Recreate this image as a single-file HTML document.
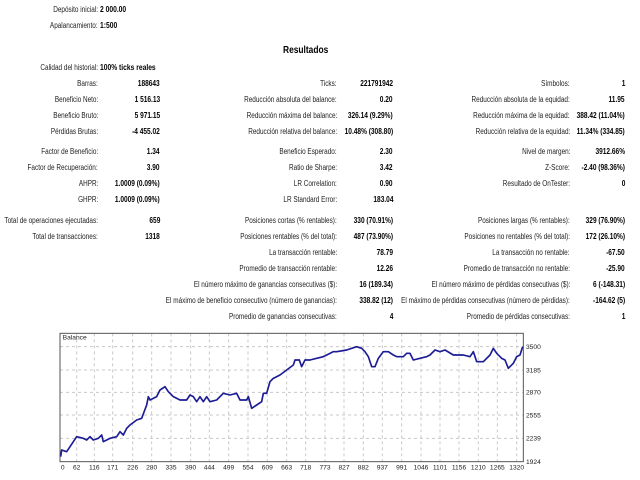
<!DOCTYPE html>
<html><head><meta charset="utf-8"><style>
body{margin:0;width:640px;height:480px;background:#fff;position:relative;overflow:hidden;font-family:"Liberation Sans",sans-serif;font-size:8px;color:#000}
.l,.v,.w{position:absolute;white-space:nowrap;line-height:10px}
.l{text-align:right;color:#222;transform:scaleX(0.8);transform-origin:right center}
.v{text-align:right;font-weight:bold;transform:scaleX(0.82);transform-origin:right center}
.w{font-weight:bold;transform:scaleX(0.84);transform-origin:left center}
</style></head><body>
<div class="l" style="right:542px;top:5px">Depósito inicial:</div><div class="w" style="left:100px;top:5px">2 000.00</div>
<div class="l" style="right:542px;top:21px">Apalancamiento:</div><div class="w" style="left:100px;top:21px">1:500</div>
<div class="w" style="left:283px;top:46px;font-size:10px">Resultados</div>
<div class="l" style="right:542px;top:63px">Calidad del historial:</div><div class="w" style="left:100px;top:63px">100% ticks reales</div>

<div class="l" style="right:542px;top:79px">Barras:</div><div class="v" style="right:480px;top:79px">188643</div>
<div class="l" style="right:542px;top:95px">Beneficio Neto:</div><div class="v" style="right:480px;top:95px">1 516.13</div>
<div class="l" style="right:542px;top:111px">Beneficio Bruto:</div><div class="v" style="right:480px;top:111px">5 971.15</div>
<div class="l" style="right:542px;top:127px">Pérdidas Brutas:</div><div class="v" style="right:480px;top:127px">-4 455.02</div>
<div class="l" style="right:542px;top:147px">Factor de Beneficio:</div><div class="v" style="right:480px;top:147px">1.34</div>
<div class="l" style="right:542px;top:163px">Factor de Recuperación:</div><div class="v" style="right:480px;top:163px">3.90</div>
<div class="l" style="right:542px;top:179px">AHPR:</div><div class="v" style="right:480px;top:179px">1.0009 (0.09%)</div>
<div class="l" style="right:542px;top:195px">GHPR:</div><div class="v" style="right:480px;top:195px">1.0009 (0.09%)</div>
<div class="l" style="right:542px;top:216px">Total de operaciones ejecutadas:</div><div class="v" style="right:480px;top:216px">659</div>
<div class="l" style="right:542px;top:232px">Total de transacciones:</div><div class="v" style="right:480px;top:232px">1318</div>

<div class="l" style="right:303px;top:79px">Ticks:</div><div class="v" style="right:247px;top:79px">221791942</div>
<div class="l" style="right:303px;top:95px">Reducción absoluta del balance:</div><div class="v" style="right:247px;top:95px">0.20</div>
<div class="l" style="right:303px;top:111px">Reducción máxima del balance:</div><div class="v" style="right:247px;top:111px">326.14 (9.29%)</div>
<div class="l" style="right:303px;top:127px">Reducción relativa del balance:</div><div class="v" style="right:247px;top:127px">10.48% (308.80)</div>
<div class="l" style="right:303px;top:147px">Beneficio Esperado:</div><div class="v" style="right:247px;top:147px">2.30</div>
<div class="l" style="right:303px;top:163px">Ratio de Sharpe:</div><div class="v" style="right:247px;top:163px">3.42</div>
<div class="l" style="right:303px;top:179px">LR Correlation:</div><div class="v" style="right:247px;top:179px">0.90</div>
<div class="l" style="right:303px;top:195px">LR Standard Error:</div><div class="v" style="right:247px;top:195px">183.04</div>
<div class="l" style="right:303px;top:216px">Posiciones cortas (% rentables):</div><div class="v" style="right:247px;top:216px">330 (70.91%)</div>
<div class="l" style="right:303px;top:232px">Posiciones rentables (% del total):</div><div class="v" style="right:247px;top:232px">487 (73.90%)</div>
<div class="l" style="right:303px;top:248px">La transacción rentable:</div><div class="v" style="right:247px;top:248px">78.79</div>
<div class="l" style="right:303px;top:264px">Promedio de transacción rentable:</div><div class="v" style="right:247px;top:264px">12.26</div>
<div class="l" style="right:303px;top:280px">El número máximo de ganancias consecutivas ($):</div><div class="v" style="right:247px;top:280px">16 (189.34)</div>
<div class="l" style="right:303px;top:296px">El máximo de beneficio consecutivo (número de ganancias):</div><div class="v" style="right:247px;top:296px">338.82 (12)</div>
<div class="l" style="right:303px;top:312px">Promedio de ganancias consecutivas:</div><div class="v" style="right:247px;top:312px">4</div>

<div class="l" style="right:70px;top:79px">Símbolos:</div><div class="v" style="right:15px;top:79px">1</div>
<div class="l" style="right:70px;top:95px">Reducción absoluta de la equidad:</div><div class="v" style="right:15px;top:95px">11.95</div>
<div class="l" style="right:70px;top:111px">Reducción máxima de la equidad:</div><div class="v" style="right:15px;top:111px">388.42 (11.04%)</div>
<div class="l" style="right:70px;top:127px">Reducción relativa de la equidad:</div><div class="v" style="right:15px;top:127px">11.34% (334.85)</div>
<div class="l" style="right:70px;top:147px">Nivel de margen:</div><div class="v" style="right:15px;top:147px">3912.66%</div>
<div class="l" style="right:70px;top:163px">Z-Score:</div><div class="v" style="right:15px;top:163px">-2.40 (98.36%)</div>
<div class="l" style="right:70px;top:179px">Resultado de OnTester:</div><div class="v" style="right:15px;top:179px">0</div>
<div class="l" style="right:70px;top:216px">Posiciones largas (% rentables):</div><div class="v" style="right:15px;top:216px">329 (76.90%)</div>
<div class="l" style="right:70px;top:232px">Posiciones no rentables (% del total):</div><div class="v" style="right:15px;top:232px">172 (26.10%)</div>
<div class="l" style="right:70px;top:248px">La transacción no rentable:</div><div class="v" style="right:15px;top:248px">-67.50</div>
<div class="l" style="right:70px;top:264px">Promedio de transacción no rentable:</div><div class="v" style="right:15px;top:264px">-25.90</div>
<div class="l" style="right:70px;top:280px">El número máximo de pérdidas consecutivas ($):</div><div class="v" style="right:15px;top:280px">6 (-148.31)</div>
<div class="l" style="right:70px;top:296px">El máximo de pérdidas consecutivas (número de pérdidas):</div><div class="v" style="right:15px;top:296px">-164.62 (5)</div>
<div class="l" style="right:70px;top:312px">Promedio de pérdidas consecutivas:</div><div class="v" style="right:15px;top:312px">1</div>

<svg width="640" height="480" style="position:absolute;left:0;top:0">
<g transform="translate(40,325) scale(0.33333)">
<g stroke="#c8c8c8" stroke-width="3" stroke-dasharray="9,9" fill="none">
<path d="M60,65H1450M60,135H1450M60,202H1450M60,270H1450M60,340H1450"/>
<path d="M110,25V410M163,25V410M218,25V410M278,25V410M335,25V410M393,25V410M452,25V410M508,25V410M566,25V410M624,25V410M682,25V410M740,25V410M797,25V410M855,25V410M912,25V410M970,25V410M1027,25V410M1085,25V410M1143,25V410M1200,25V410M1257,25V410M1315,25V410M1372,25V410M1430,25V410"/>
</g>
<rect x="60" y="25" width="1390" height="385" fill="none" stroke="#555" stroke-width="3"/>
<polyline fill="none" stroke="#1c1c96" stroke-width="5" stroke-linejoin="round" points="62,395 65,375 80,380 100,350 110,335 130,340 140,345 150,335 160,345 175,340 185,330 190,350 210,340 230,335 240,320 250,330 260,310 270,300 290,285 305,280 320,240 325,215 330,225 350,215 360,195 375,185 385,200 400,215 420,225 440,225 450,210 460,215 470,230 480,215 490,230 500,215 510,230 530,225 550,205 570,210 590,205 600,225 620,225 625,215 635,250 650,240 665,230 670,205 680,205 690,170 700,160 720,150 740,135 760,120 765,105 778,105 785,125 795,105 810,105 830,100 850,95 870,85 880,80 890,80 920,75 950,65 965,70 975,80 985,95 995,125 1005,125 1015,100 1030,80 1045,80 1060,90 1070,95 1090,95 1100,85 1110,85 1120,105 1140,100 1160,95 1170,90 1185,75 1200,80 1215,75 1240,90 1270,90 1290,95 1300,80 1310,110 1330,110 1350,90 1360,70 1370,85 1385,100 1395,105 1405,130 1420,115 1430,95 1440,90 1448,65"/>
<g font-family="Liberation Sans, sans-serif" font-size="20" fill="#222">
<text x="68" y="44">Balance</text>
<g text-anchor="start"><text x="1458" y="72">3500</text><text x="1458" y="142">3185</text><text x="1458" y="209">2870</text><text x="1458" y="277">2555</text><text x="1458" y="347">2239</text><text x="1458" y="417">1924</text></g>
<g text-anchor="middle"><text x="68" y="434">0</text><text x="110" y="434">62</text><text x="163" y="434">116</text><text x="218" y="434">171</text><text x="278" y="434">226</text><text x="335" y="434">280</text><text x="393" y="434">335</text><text x="452" y="434">390</text><text x="508" y="434">444</text><text x="566" y="434">499</text><text x="624" y="434">554</text><text x="682" y="434">609</text><text x="740" y="434">663</text><text x="797" y="434">718</text><text x="855" y="434">773</text><text x="912" y="434">827</text><text x="970" y="434">882</text><text x="1027" y="434">937</text><text x="1085" y="434">991</text><text x="1143" y="434">1046</text><text x="1200" y="434">1101</text><text x="1257" y="434">1156</text><text x="1315" y="434">1210</text><text x="1372" y="434">1265</text><text x="1430" y="434">1320</text></g>
</g></g></svg>
</body></html>
